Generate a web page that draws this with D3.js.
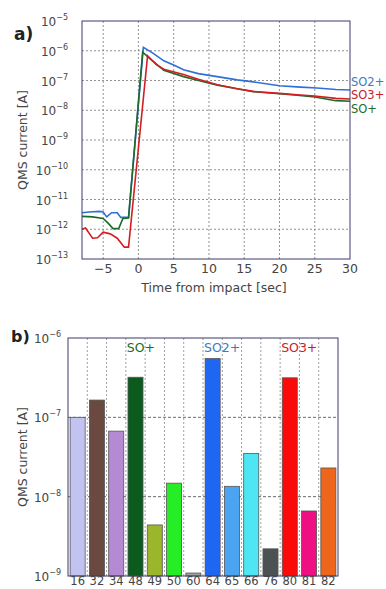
<!DOCTYPE html>
<html>
<head>
<meta charset="utf-8">
<script src="https://cdn.jsdelivr.net/npm/d3@7"></script>
<style>
  body { margin: 0; background: #fff; }
  text { font-family: "DejaVu Sans", sans-serif; fill: #444; }
</style>
</head>
<body>
<svg id="chart" width="386" height="589"></svg>
<script>
// ---- panel a: time series ----
const soT   = [-8, -6.5, -5, -4.3, -3.6, -2.8, -2.2, -1.4, 0.6, 1.5, 3.6, 6.4, 8.5, 11.2, 14, 16.3, 20, 22.5, 25, 28, 30];
const soV   = [2.7e-12, 2.6e-12, 2.3e-12, 1.6e-12, 1.05e-12, 1.05e-12, 2.3e-12, 2.4e-12, 9e-7, 5.8e-7, 2.2e-7, 1.35e-7, 1e-7, 7e-8, 5.3e-8, 4.2e-8, 3.6e-8, 3.2e-8, 2.8e-8, 2.1e-8, 2.0e-8];

const so2T  = [-8, -7, -5.5, -5, -4.5, -3.8, -3, -2.5, -2, -1.4, 0.7, 2, 3.6, 5, 6.4, 8.5, 11.6, 14, 16.3, 20, 23, 25.3, 28, 30];
const so2V  = [3.6e-12, 3.8e-12, 4e-12, 3.8e-12, 2.6e-12, 3.6e-12, 3.6e-12, 2.5e-12, 2.5e-12, 2.5e-12, 1.3e-6, 8.5e-7, 4.6e-7, 3.3e-7, 2.3e-7, 1.7e-7, 1.3e-7, 1.05e-7, 9e-8, 6.7e-8, 6e-8, 5.6e-8, 5e-8, 4.8e-8];

const so3T  = [-8, -7.5, -6.5, -5.8, -5, -4, -3, -2, -1.4, 1.3, 2.5, 3.6, 6.4, 8.5, 11.2, 14, 16.3, 20, 22.5, 25, 28, 30];
const so3V  = [1e-12, 1.1e-12, 5e-13, 5.2e-13, 8e-13, 7e-13, 5e-13, 2.5e-13, 2.5e-13, 6.8e-7, 3.5e-7, 2.4e-7, 1.6e-7, 1.1e-7, 7.2e-8, 5.3e-8, 4.3e-8, 3.7e-8, 3.3e-8, 3e-8, 2.5e-8, 2.4e-8];

const seriesNames  = ["SO+", "SO2+", "SO3+"];
const seriesColors = ["#1d6b2a", "#2f6fd8", "#d21f22"];
const labelColors  = ["#1d6b2a", "#3a7cc0", "#c8202a"];
const labelOffsets = [109, 82, 95.5];
const timeTicks = [-5, 0, 5, 10, 15, 20, 25, 30];
const expTicksA = [-5, -6, -7, -8, -9, -10, -11, -12, -13];

// ---- panel b: bars ----
const masses = ["16", "32", "34", "48", "49", "50", "60", "64", "65", "66", "76", "80", "81", "82"];
const currents = [1.0e-7, 1.65e-7, 6.7e-8, 3.2e-7, 4.4e-9, 1.48e-8, 1.09e-9, 5.5e-7, 1.35e-8, 3.5e-8, 2.2e-9, 3.15e-7, 6.6e-9, 2.3e-8];
const barColors = ["#c3c3f2", "#6a4a40", "#b48bd2", "#0b5a1e", "#9bb52c", "#26ee26", "#a0a0a8", "#1f66f2", "#4aa4f2", "#4de6f2", "#4c5254", "#fb0a0a", "#ef0f82", "#ee651c"];
const groupLabels = [{ text: "SO+", at: "48", color: "#1d6b2a" }, { text: "SO2+", at: "64", color: "#3a7cc0" }, { text: "SO3+", at: "80", color: "#c8202a" }];
const expTicksB = [-6, -7, -8, -9];

const svg = d3.select("#chart");
const frame = "#3a3a6a";

function powLabel(g, x, y, e) {
  const t = g.append("text").attr("x", x).attr("y", y).attr("text-anchor", "end")
    .attr("dominant-baseline", "middle").style("font-size", "12px");
  t.append("tspan").text("10");
  t.append("tspan").attr("dy", -5).style("font-size", "8px").text("\u2212" + Math.abs(e));
}

// ===== panel a =====
const A = { l: 82, r: 350, t: 21, b: 259 };
const xA = d3.scaleLinear().domain([-8, 30]).range([A.l, A.r]);
const yA = d3.scaleLog().domain([1e-13, 1e-5]).range([A.b, A.t]);
const gA = svg.append("g");

gA.selectAll(".vg").data(timeTicks.filter(d => d < 30)).join("line")
  .attr("x1", d => xA(d)).attr("x2", d => xA(d)).attr("y1", A.t).attr("y2", A.b)
  .attr("stroke", "#777").attr("stroke-width", 0.8).attr("stroke-dasharray", "2,2");
gA.selectAll(".hg").data(expTicksA.filter(e => e > -13 && e < -5)).join("line")
  .attr("x1", A.l).attr("x2", A.r).attr("y1", e => yA(Math.pow(10, e))).attr("y2", e => yA(Math.pow(10, e)))
  .attr("stroke", "#777").attr("stroke-width", 0.8).attr("stroke-dasharray", "2,2");

const line = d3.line().x(d => xA(d[0])).y(d => yA(d[1]));
const series = [d3.zip(soT, soV), d3.zip(so2T, so2V), d3.zip(so3T, so3V)];
[1, 0, 2].forEach(i => {
  gA.append("path").datum(series[i]).attr("d", line).attr("fill", "none")
    .attr("stroke", seriesColors[i]).attr("stroke-width", 1.6);
});

gA.append("rect").attr("x", A.l).attr("y", A.t).attr("width", A.r - A.l).attr("height", A.b - A.t)
  .attr("fill", "none").attr("stroke", frame).attr("stroke-width", 1);

expTicksA.forEach(e => powLabel(gA, 68, yA(Math.pow(10, e)) + 1, e));
gA.selectAll(".xt").data(timeTicks).join("text")
  .attr("x", d => xA(d)).attr("y", A.b + 14).attr("text-anchor", "middle")
  .style("font-size", "12.5px").text(d => d < 0 ? "\u2212" + Math.abs(d) : d);
gA.append("text").attr("x", 214).attr("y", 292).attr("text-anchor", "middle")
  .style("font-size", "12.5px").text("Time from impact [sec]");
gA.append("text").attr("transform", "translate(27,140) rotate(-90)").attr("text-anchor", "middle")
  .style("font-size", "12.5px").text("QMS current [A]");
seriesNames.forEach((n, i) => {
  gA.append("text").attr("x", 351).attr("y", labelOffsets[i]).attr("dominant-baseline", "middle")
    .style("font-size", "11.5px").style("fill", labelColors[i]).text(n);
});
gA.append("text").attr("x", 14).attr("y", 40).style("font-size", "17px").style("font-weight", "bold")
  .style("fill", "#222").text("a)");

// ===== panel b =====
const B = { l: 68, r: 338, t: 338, b: 576 };
const xB = d3.scaleBand().domain(masses).range([B.l, B.r]).paddingInner(0.22).paddingOuter(0.11);
const yB = d3.scaleLog().domain([1e-9, 1e-6]).range([B.b, B.t]);
const gB = svg.append("g");
const step = (B.r - B.l) / masses.length;

gB.selectAll(".vg").data(d3.range(1, masses.length)).join("line")
  .attr("x1", k => B.l + k * step).attr("x2", k => B.l + k * step).attr("y1", B.t).attr("y2", B.b)
  .attr("stroke", "#888").attr("stroke-width", 0.8).attr("stroke-dasharray", "2,2");
gB.selectAll(".hg").data([-7, -8]).join("line")
  .attr("x1", B.l).attr("x2", B.r).attr("y1", e => yB(Math.pow(10, e))).attr("y2", e => yB(Math.pow(10, e)))
  .attr("stroke", "#444").attr("stroke-width", 0.8).attr("stroke-dasharray", "3,2");

gB.selectAll(".bar").data(masses).join("rect")
  .attr("x", d => xB(d)).attr("width", xB.bandwidth())
  .attr("y", (d, i) => yB(currents[i])).attr("height", (d, i) => B.b - yB(currents[i]))
  .attr("fill", (d, i) => barColors[i]).attr("stroke", "#555").attr("stroke-width", 0.8);

gB.append("rect").attr("x", B.l).attr("y", B.t).attr("width", B.r - B.l).attr("height", B.b - B.t)
  .attr("fill", "none").attr("stroke", frame).attr("stroke-width", 1);

expTicksB.forEach(e => powLabel(gB, 61, yB(Math.pow(10, e)) + 1, e));
gB.selectAll(".xt").data(masses).join("text")
  .attr("x", d => xB(d) + xB.bandwidth() / 2).attr("y", 585).attr("text-anchor", "middle")
  .style("font-size", "11.5px").text(d => d);
gB.append("text").attr("transform", "translate(27,457) rotate(-90)").attr("text-anchor", "middle")
  .style("font-size", "12.5px").text("QMS current [A]");
groupLabels.forEach(g => {
  gB.append("text").attr("x", B.l + masses.indexOf(g.at) * step + 1).attr("y", 352)
    .style("font-size", "12.5px").style("fill", g.color).text(g.text);
});
gB.append("text").attr("x", 11).attr("y", 342).style("font-size", "16px").style("font-weight", "bold")
  .style("fill", "#222").text("b)");
</script>
</body>
</html>
